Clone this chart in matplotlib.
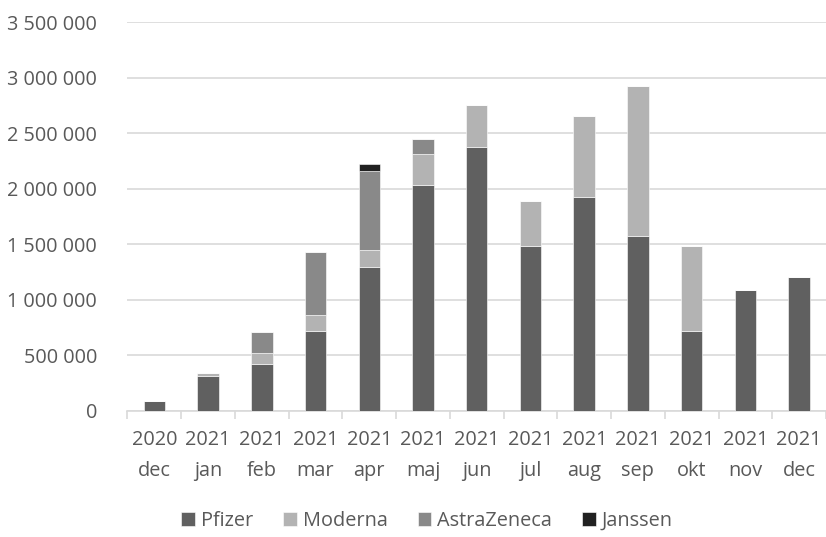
import numpy as np
import matplotlib
matplotlib.use('Agg')
import matplotlib.pyplot as plt
from matplotlib.ticker import FuncFormatter, FixedLocator

# ==============================================================================
# Data
#
months = ['2020\ndec', '2021\njan', '2021\nfeb', '2021\nmar', '2021\napr',
          '2021\nmaj', '2021\njun', '2021\njul', '2021\naug', '2021\nsep',
          '2021\nokt', '2021\nnov', '2021\ndec']
pfizer = [90000, 308000, 416000, 720000, 1289000, 2034000, 2377000,
          1478000, 1927000, 1568000, 717000, 1085000, 1202000]
moderna = [0, 31000, 99000, 142000, 159000, 273000, 375000,
           413000, 726000, 1355000, 764000, 0, 0]
astrazeneca = [0, 0, 189000, 568000, 710000, 135000, 0,
               0, 0, 0, 0, 0, 0]
janssen = [0, 0, 0, 0, 66000, 0, 0, 0, 0, 0, 0, 0, 0]
series_names = ['Pfizer', 'Moderna', 'AstraZeneca', 'Janssen']

# ==============================================================================
# Style
#
COLORS = ['#606060', '#b3b3b3', '#898989', '#212121']
TEXT_COLOR = '#595959'
GRID_COLOR = '#d9d9d9'
FONT = 'Open Sans'
FONT_SIZE = 14.3

plt.rcParams['font.family'] = FONT

fig = plt.figure(figsize=(8.26, 5.37), dpi=100)
ax = fig.add_axes([0.1543, 0.2355, 0.8457, 0.7235])

x = np.arange(len(months))
bottom = np.zeros(len(months))
for name, values, color in zip(series_names,
                               [pfizer, moderna, astrazeneca, janssen],
                               COLORS):
    values = np.array(values, dtype=float)
    ax.bar(x, values, width=0.4, bottom=bottom, color=color, label=name,
           edgecolor='white', linewidth=0.4, zorder=3)
    bottom += values

ax.set_xlim(-0.5, len(months) - 0.5)
ax.set_ylim(0, 3500000)
ax.set_yticks(np.arange(0, 3500001, 500000))
ax.yaxis.set_major_formatter(
    FuncFormatter(lambda v, p: '{:,.0f}'.format(v).replace(',', ' ')))
ax.grid(axis='y', color=GRID_COLOR, linewidth=1.2, zorder=0)

ax.set_xticks(x)
ax.set_xticklabels(months, linespacing=1.75)
ax.xaxis.set_minor_locator(FixedLocator(np.arange(-0.5, len(months), 1.0)))
ax.tick_params(axis='x', which='major', length=0, pad=14,
               labelsize=FONT_SIZE, labelcolor=TEXT_COLOR)
ax.tick_params(axis='x', which='minor', length=6, width=1.2,
               color=GRID_COLOR)
ax.tick_params(axis='y', length=0, pad=22, labelsize=FONT_SIZE,
               labelcolor=TEXT_COLOR)

for side in ['top', 'right', 'left']:
    ax.spines[side].set_visible(False)
ax.spines['bottom'].set_color(GRID_COLOR)
ax.spines['bottom'].set_linewidth(1.2)

fig.legend(loc='center', bbox_to_anchor=(0.517, 0.03), ncol=4,
           frameon=False, fontsize=FONT_SIZE, labelcolor=TEXT_COLOR,
           handlelength=0.7, handleheight=0.7, handletextpad=0.3,
           columnspacing=1.5)

fig.savefig('out.png', dpi=100)
